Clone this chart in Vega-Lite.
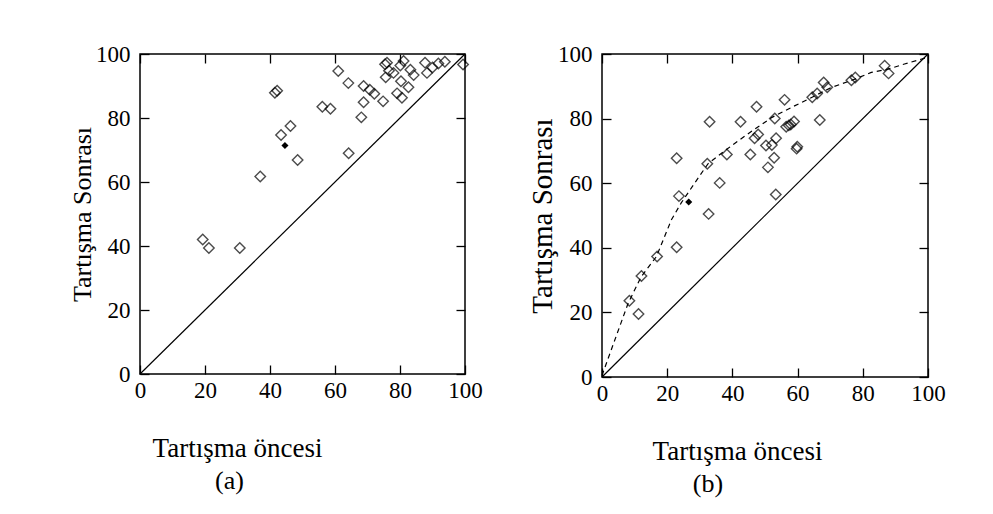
{
  "$schema": "https://vega.github.io/schema/vega-lite/v6.json",
  "background": "white",
  "padding": {"left": 68, "top": 42, "right": 5, "bottom": 5},
  "spacing": 137,
  "bounds": "flush",
  "datasets": {
    "diag": [{"once": 0, "sonra": 0}, {"once": 100, "sonra": 100}],
    "a_points": [
      {"once": 19.3, "sonra": 42}, {"once": 21.2, "sonra": 39.4}, {"once": 30.7, "sonra": 39.4},
      {"once": 37, "sonra": 61.7}, {"once": 41.5, "sonra": 87.9}, {"once": 42.2, "sonra": 88.5},
      {"once": 43.4, "sonra": 74.7}, {"once": 46.3, "sonra": 77.5}, {"once": 48.5, "sonra": 66.9},
      {"once": 56.1, "sonra": 83.5}, {"once": 58.6, "sonra": 82.9}, {"once": 61, "sonra": 94.7},
      {"once": 64.1, "sonra": 90.9}, {"once": 64.2, "sonra": 69}, {"once": 68.1, "sonra": 80.2},
      {"once": 68.8, "sonra": 90}, {"once": 68.8, "sonra": 84.9}, {"once": 70.7, "sonra": 88.8},
      {"once": 72.1, "sonra": 87.6}, {"once": 74.8, "sonra": 85.2}, {"once": 75.4, "sonra": 96.8},
      {"once": 76, "sonra": 97.3}, {"once": 75.6, "sonra": 92.7}, {"once": 76.6, "sonra": 94.8},
      {"once": 78, "sonra": 94.1}, {"once": 79.1, "sonra": 87.7}, {"once": 80.1, "sonra": 96.4},
      {"once": 81.1, "sonra": 97.8}, {"once": 80.3, "sonra": 91.5}, {"once": 80.6, "sonra": 86.3},
      {"once": 82.6, "sonra": 89.6}, {"once": 83.2, "sonra": 95.1}, {"once": 84.2, "sonra": 93.4},
      {"once": 87.7, "sonra": 97.3}, {"once": 88.3, "sonra": 94.1}, {"once": 90, "sonra": 95.8},
      {"once": 91.8, "sonra": 97}, {"once": 93.8, "sonra": 97.6}, {"once": 99.4, "sonra": 96.7}
    ],
    "a_high": [{"once": 44.6, "sonra": 71.4}],
    "b_points": [
      {"once": 8.4, "sonra": 23.6}, {"once": 11.2, "sonra": 19.5}, {"once": 12.1, "sonra": 31.3},
      {"once": 16.9, "sonra": 37.3}, {"once": 22.9, "sonra": 67.7}, {"once": 22.9, "sonra": 40.2},
      {"once": 23.6, "sonra": 56}, {"once": 32.3, "sonra": 66}, {"once": 32.7, "sonra": 50.5},
      {"once": 33, "sonra": 79}, {"once": 36.1, "sonra": 60.1}, {"once": 38.3, "sonra": 68.9},
      {"once": 42.5, "sonra": 79}, {"once": 45.5, "sonra": 68.9}, {"once": 46.8, "sonra": 73.9},
      {"once": 47.4, "sonra": 83.7}, {"once": 47.9, "sonra": 75.1}, {"once": 50.3, "sonra": 71.7},
      {"once": 50.9, "sonra": 64.9}, {"once": 52.1, "sonra": 71.8}, {"once": 52.8, "sonra": 67.9},
      {"once": 53, "sonra": 80}, {"once": 53.3, "sonra": 56.5}, {"once": 53.4, "sonra": 73.9},
      {"once": 56, "sonra": 85.8}, {"once": 56.5, "sonra": 77.5}, {"once": 57.3, "sonra": 77.9},
      {"once": 57.9, "sonra": 78.2}, {"once": 58.9, "sonra": 79.1}, {"once": 59.7, "sonra": 70.7},
      {"once": 59.9, "sonra": 71.3}, {"once": 64.5, "sonra": 86.6}, {"once": 66, "sonra": 87.8},
      {"once": 66.8, "sonra": 79.6}, {"once": 68, "sonra": 91.2}, {"once": 69.1, "sonra": 89.7},
      {"once": 76.5, "sonra": 91.9}, {"once": 77.7, "sonra": 92.7}, {"once": 86.7, "sonra": 96.4},
      {"once": 87.9, "sonra": 94}
    ],
    "b_high": [{"once": 26.6, "sonra": 54.2}],
    "b_curve": [
      {"once": 0, "sonra": 0.5}, {"once": 8, "sonra": 22.8}, {"once": 12, "sonra": 31},
      {"once": 16.7, "sonra": 37.3}, {"once": 21.3, "sonra": 48.7}, {"once": 24.3, "sonra": 53.9},
      {"once": 28.4, "sonra": 60}, {"once": 32.5, "sonra": 66}, {"once": 37.6, "sonra": 70},
      {"once": 43.8, "sonra": 74.6}, {"once": 52, "sonra": 80.3}, {"once": 58, "sonra": 83.4},
      {"once": 65.2, "sonra": 87}, {"once": 70.3, "sonra": 89.6}, {"once": 77.5, "sonra": 92.2},
      {"once": 82.6, "sonra": 94.3}, {"once": 87.7, "sonra": 95.3}, {"once": 92.8, "sonra": 96.9},
      {"once": 100, "sonra": 99}
    ]
  },
  "hconcat": [
    {
      "width": 325,
      "height": 320,
      "title": {"text": "(a)", "orient": "bottom", "anchor": "middle", "frame": "group", "dx": -73, "offset": 7, "fontSize": 26, "font": "Liberation Serif", "fontWeight": "normal", "color": "black"},
      "layer": [
        {
          "data": {"name": "diag"},
          "mark": {"type": "line", "color": "black", "strokeWidth": 1.2},
          "encoding": {
            "x": {"field": "once", "type": "quantitative", "scale": {"domain": [0, 100], "nice": false},
              "axis": {"orient": "bottom", "values": [0, 20, 40, 60, 80, 100], "title": "Tartışma öncesi", "titleX": 97, "titlePadding": 33, "titleFontSize": 27, "labelPadding": 14, "labelFont": "Liberation Serif"}},
            "y": {"field": "sonra", "type": "quantitative", "scale": {"domain": [0, 100], "nice": false},
              "axis": {"orient": "left", "values": [0, 20, 40, 60, 80, 100], "title": "Tartışma Sonrası", "titlePadding": 0, "titleFontSize": 26, "labelPadding": 19, "labelFont": "Liberation Serif"}}
          }
        },
        {
          "data": {"name": "a_points"},
          "mark": {"type": "point", "shape": "diamond", "filled": false, "color": "black", "size": 110, "strokeWidth": 1.4},
          "encoding": {
            "x": {"field": "once", "type": "quantitative", "axis": {"orient": "top", "labels": false, "title": null, "values": [0, 20, 40, 60, 80, 100]}},
            "y": {"field": "sonra", "type": "quantitative", "axis": {"orient": "right", "labels": false, "title": null, "values": [0, 20, 40, 60, 80, 100]}}
          }
        },
        {
          "data": {"name": "a_high"},
          "mark": {"type": "point", "shape": "diamond", "filled": true, "color": "black", "size": 50, "opacity": 1},
          "encoding": {
            "x": {"field": "once", "type": "quantitative", "axis": null},
            "y": {"field": "sonra", "type": "quantitative", "axis": null}
          }
        }
      ],
      "resolve": {"axis": {"x": "independent", "y": "independent"}}
    },
    {
      "width": 326,
      "height": 323,
      "title": {"text": "(b)", "orient": "bottom", "anchor": "middle", "frame": "group", "dx": -57, "offset": 7, "fontSize": 26, "font": "Liberation Serif", "fontWeight": "normal", "color": "black"},
      "layer": [
        {
          "data": {"name": "diag"},
          "mark": {"type": "line", "color": "black", "strokeWidth": 1.2},
          "encoding": {
            "x": {"field": "once", "type": "quantitative", "scale": {"domain": [0, 100], "nice": false},
              "axis": {"orient": "bottom", "values": [0, 20, 40, 60, 80, 100], "title": "Tartışma öncesi", "titleX": 135, "titlePadding": 33, "titleFontSize": 27, "labelPadding": 14, "labelFont": "Liberation Serif"}},
            "y": {"field": "sonra", "type": "quantitative", "scale": {"domain": [0, 100], "nice": false},
              "axis": {"orient": "left", "values": [0, 20, 40, 60, 80, 100], "title": "Tartışma Sonrası", "titlePadding": 0, "titleFontSize": 29, "labelPadding": 19, "labelFont": "Liberation Serif"}}
          }
        },
        {
          "data": {"name": "b_curve"},
          "mark": {"type": "line", "color": "black", "strokeWidth": 1.2, "strokeDash": [5, 4]},
          "encoding": {
            "x": {"field": "once", "type": "quantitative", "axis": null},
            "y": {"field": "sonra", "type": "quantitative", "axis": null}
          }
        },
        {
          "data": {"name": "b_points"},
          "mark": {"type": "point", "shape": "diamond", "filled": false, "color": "black", "size": 110, "strokeWidth": 1.4},
          "encoding": {
            "x": {"field": "once", "type": "quantitative", "axis": {"orient": "top", "labels": false, "title": null, "values": [0, 20, 40, 60, 80, 100]}},
            "y": {"field": "sonra", "type": "quantitative", "axis": {"orient": "right", "labels": false, "title": null, "values": [0, 20, 40, 60, 80, 100]}}
          }
        },
        {
          "data": {"name": "b_high"},
          "mark": {"type": "point", "shape": "diamond", "filled": true, "color": "black", "size": 50, "opacity": 1},
          "encoding": {
            "x": {"field": "once", "type": "quantitative", "axis": null},
            "y": {"field": "sonra", "type": "quantitative", "axis": null}
          }
        }
      ],
      "resolve": {"axis": {"x": "independent", "y": "independent"}}
    }
  ],
  "config": {
    "font": "Liberation Serif",
    "view": {"stroke": "black", "strokeWidth": 1.5},
    "axis": {
      "domain": false,
      "grid": false,
      "ticks": true,
      "tickSize": -9,
      "tickColor": "black",
      "tickWidth": 1.3,
      "labelFont": "Liberation Serif",
      "labelFontSize": 23,
      "labelColor": "black",
      "labelFlush": false,
      "labelOverlap": false,
      "labelBound": false,
      "titleFont": "Liberation Serif",
      "titleFontWeight": "normal",
      "titleColor": "black"
    }
  }
}
